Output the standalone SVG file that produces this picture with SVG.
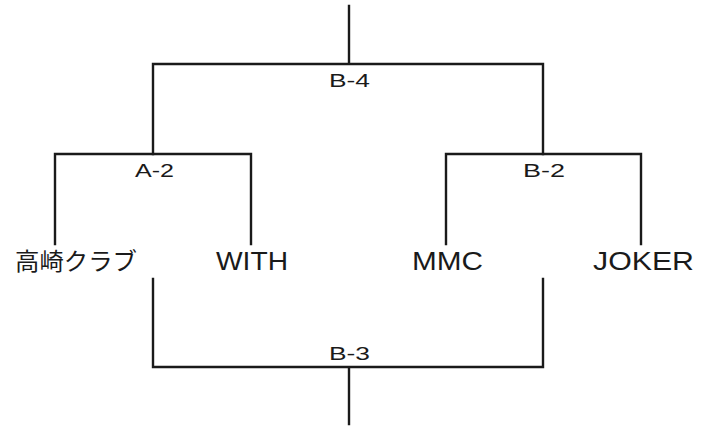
<svg xmlns="http://www.w3.org/2000/svg" width="709" height="426" viewBox="0 0 709 426">
<style>
.ln{fill:none;stroke:#1a1a1a;stroke-width:2.4;stroke-linecap:square}
.team{font-family:"Liberation Sans","Noto Sans CJK JP",sans-serif;font-size:26px;fill:#1a1a1a;text-anchor:middle}
.jp{font-family:"Noto Sans CJK JP",sans-serif;font-size:24px;fill:#1a1a1a;text-anchor:middle}
.match{font-family:"Liberation Sans",sans-serif;font-size:19px;fill:#1a1a1a;text-anchor:middle}
</style>
<rect width="709" height="426" fill="#fff"/>
<g id="connectors">
<path class="ln" d="M349,6 V64 M153,154 V64 H543 V154"/>
<path class="ln" d="M55,244 V154 H251 V244"/>
<path class="ln" d="M446,244 V154 H641 V244"/>
<path class="ln" d="M153,279 V367 H543 V279 M349,367 V424"/>
</g>
<g id="match-B4"><text class="match" x="349.5" y="87" textLength="41" lengthAdjust="spacingAndGlyphs">B-4</text></g>
<g id="match-A2"><text class="match" x="154.5" y="177" textLength="39" lengthAdjust="spacingAndGlyphs">A-2</text></g>
<g id="match-B2"><text class="match" x="544" y="177" textLength="42" lengthAdjust="spacingAndGlyphs">B-2</text></g>
<g id="match-B3"><text class="match" x="349.5" y="360" textLength="41" lengthAdjust="spacingAndGlyphs">B-3</text></g>
<g id="team-takasaki"><text class="jp" x="76" y="270" textLength="122" lengthAdjust="spacingAndGlyphs">高崎クラブ</text></g>
<g id="team-with"><text class="team" x="252" y="270" textLength="72" lengthAdjust="spacingAndGlyphs">WITH</text></g>
<g id="team-mmc"><text class="team" x="447.5" y="270" textLength="71" lengthAdjust="spacingAndGlyphs">MMC</text></g>
<g id="team-joker"><text class="team" x="643.5" y="270" textLength="101" lengthAdjust="spacingAndGlyphs">JOKER</text></g>
</svg>
